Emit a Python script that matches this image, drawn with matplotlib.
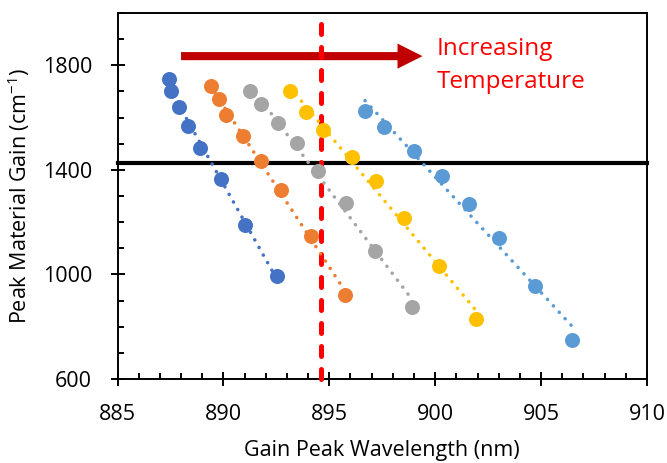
import numpy as np
import matplotlib
matplotlib.use("Agg")
import matplotlib.pyplot as plt
from matplotlib.patches import FancyArrow
from matplotlib.ticker import MultipleLocator

plt.rcParams['font.family'] = ['Open Sans', 'DejaVu Sans']
plt.rcParams['mathtext.fontset'] = 'custom'
plt.rcParams['mathtext.rm'] = 'Open Sans'
plt.rcParams['mathtext.it'] = 'Open Sans'

# Data
x1 = [887.45, 887.53, 887.90, 888.34, 888.90, 889.89, 891.02, 892.54]
y1 = [1746, 1702, 1642, 1567, 1484, 1364, 1188, 995]
x2 = [889.40, 889.81, 890.12, 890.94, 891.76, 892.71, 894.14, 895.74]
y2 = [1721, 1670, 1609, 1531, 1434, 1322, 1148, 920]
x3 = [891.27, 891.78, 892.56, 893.46, 894.45, 895.79, 897.17, 898.89]
y3 = [1702, 1653, 1581, 1501, 1396, 1273, 1090, 876]
x4 = [893.16, 893.89, 894.72, 896.06, 897.20, 898.53, 900.18, 901.91]
y4 = [1700, 1621, 1554, 1449, 1357, 1216, 1034, 828]
x5 = [896.69, 897.60, 899.00, 900.34, 901.61, 903.03, 904.70, 906.46]
y5 = [1624, 1564, 1471, 1377, 1268, 1138, 955, 750]
series_colors = ['#4472C4', '#ED7D31', '#A5A5A5', '#FFC000', '#5B9BD5']

hline_y = 1425
vline_x = 894.6
arrow_x = [888.0, 899.4]
arrow_y = 1835
label_lines = ['Increasing', 'Temperature']
xticks = [885, 890, 895, 900, 905, 910]
yticks = [600, 1000, 1400, 1800]

fig = plt.figure(figsize=(6.67, 4.63), dpi=100)
ax = fig.add_axes([117.5/667, 1-379/463, (647-117.5)/667, (379-13)/463])
ax.set_xlim(885, 910)
ax.set_ylim(600, 2000)

# arrow
ax.add_patch(FancyArrow(arrow_x[0], arrow_y, arrow_x[1]-arrow_x[0], 0,
                        width=31, head_width=96, head_length=1.18,
                        length_includes_head=True, color='#C00000', lw=0, zorder=2))
ax.text(900.07, 1838, label_lines[0], color='#FF0000', fontsize=17.5, va='baseline', ha='left')
ax.text(900.07, 1712, label_lines[1], color='#FF0000', fontsize=17.5, va='baseline', ha='left')

# reference lines
ax.axhline(hline_y, color='black', lw=3, zorder=3, clip_on=False)
ax.plot([vline_x, vline_x], [600, 2006], color='#FF0000', lw=3.6,
        linestyle=(0, (2, 2.6)), dash_capstyle='round', zorder=3, clip_on=False)

for xs, ys, c in zip([x1, x2, x3, x4, x5], [y1, y2, y3, y4, y5], series_colors):
    xs = np.array(xs); ys = np.array(ys)
    ax.plot(xs, ys, 'o', color=c, markersize=10.8, markeredgewidth=0, zorder=4)
    p = np.polyfit(xs, ys, 1)
    xx = np.array([xs.min(), xs.max()])
    ax.plot(xx, np.polyval(p, xx), color=c, lw=2.6, linestyle=(0, (0.01, 2.4)),
            dash_capstyle='round', zorder=5)

ax.set_xticks(xticks)
ax.set_yticks(yticks)
ax.xaxis.set_minor_locator(MultipleLocator(1))
ax.yaxis.set_minor_locator(MultipleLocator(100))
ax.tick_params(which='major', direction='inout', length=10.5, width=1.4, labelsize=15.5)
ax.tick_params(axis='x', which='major', pad=12.5)
ax.tick_params(axis='y', which='major', pad=13)
ax.tick_params(which='minor', direction='in', length=4.5, width=1.4)
for s in ax.spines.values():
    s.set_linewidth(1.4)

ax.set_xlabel('Gain Peak Wavelength (nm)', fontsize=15.5, labelpad=11)
ax.set_ylabel(r'Peak Material Gain (cm$^{-1}$)', fontsize=15.5, labelpad=8)

fig.savefig('out.png', dpi=100)
